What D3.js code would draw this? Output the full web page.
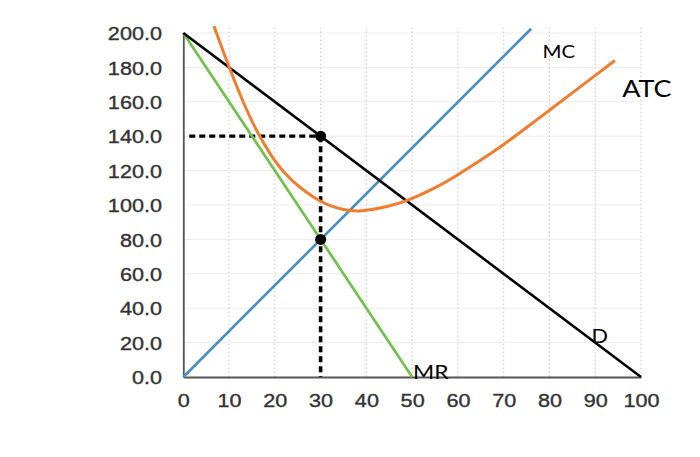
<!DOCTYPE html>
<html>
<head>
<meta charset="utf-8">
<script src="https://cdn.jsdelivr.net/npm/d3@7"></script>
<style>
  html, body { margin: 0; padding: 0; background: #fff; }
  svg { display: block; }
</style>
</head>
<body>
<script>
// ---- data ----
const xTicks = [0, 10, 20, 30, 40, 50, 60, 70, 80, 90, 100];
const yTicks = [0, 20, 40, 60, 80, 100, 120, 140, 160, 180, 200];

const demandQ = [0, 100];
const demandP = [200, 0];
const mrQ = [0, 50];
const mrP = [200, 0];
const mcQ = [0, 76];
const mcP = [0, 202.5];
const atcQ = [6.7, 10, 13.8, 16.4, 20, 23.3, 30, 35, 38.5, 45, 50, 56, 60, 65, 70, 75, 80, 85, 90, 94.3];
const atcP = [204, 180, 155, 141, 125, 114.5, 101, 97, 96, 99, 103.5, 111.2, 117.6, 126, 135, 145, 155.1, 165.2, 175.3, 184];

const pointQ = [30, 30];
const pointP = [140, 80];

const labelText = ["MC", "ATC", "D", "MR"];
const labelQ = [78.5, 95.9, 89.2, 50.2];
const labelP = [185.3, 163, 19.6, -1.2];

// ---- layout ----
const W = 700, H = 457;
const stretch = 1.17;
const svg = d3.select("body").append("svg").attr("width", W).attr("height", H);
svg.append("rect").attr("width", W).attr("height", H).attr("fill", "#fff");

const x = d3.scaleLinear().domain([0, 100]).range([183.3, 641]);
const y = d3.scaleLinear().domain([0, 200]).range([377, 33]);

// grid
const grid = svg.append("g");
grid.selectAll("line.h").data(yTicks.filter(d => d > 0)).join("line")
  .attr("x1", x(0)).attr("x2", x(100))
  .attr("y1", d => y(d)).attr("y2", d => y(d))
  .attr("stroke", "#ececec").attr("stroke-width", 1);
grid.selectAll("line.v").data(xTicks.filter(d => d > 0)).join("line")
  .attr("x1", d => x(d)).attr("x2", d => x(d))
  .attr("y1", y(0)).attr("y2", y(203))
  .attr("stroke", "#c8c8c8").attr("stroke-width", 1)
  .attr("stroke-dasharray", "1.5,2.5");

// axes
const xAxis = svg.append("g").attr("transform", `translate(0,${y(0)})`)
  .call(d3.axisBottom(x).tickValues(xTicks).tickFormat(d3.format("d")).tickSize(0).tickSizeOuter(0));
const yAxis = svg.append("g").attr("transform", `translate(${x(0)},0)`)
  .call(d3.axisLeft(y).tickValues(yTicks).tickFormat(d3.format(".1f")).tickSize(0).tickSizeOuter(0));

[xAxis, yAxis].forEach(a => {
  a.select(".domain").attr("stroke", "#555").attr("stroke-width", 1.8);
  a.selectAll("text")
    .attr("font-family", "'Liberation Sans', Arial, sans-serif")
    .attr("font-size", 18.5)
    .attr("fill", "#333")
    .attr("stroke", "#333")
    .attr("stroke-width", 0.35);
});
xAxis.selectAll("text").attr("y", 30).attr("dy", 0)
  .attr("transform", `scale(${stretch},1)`);
yAxis.selectAll("text").attr("x", -21.3 / stretch).attr("dy", "0.36em")
  .attr("transform", `scale(${stretch},1)`);

// dashed guides
svg.append("line")
  .attr("x1", x(1.3)).attr("x2", x(pointQ[0]))
  .attr("y1", y(pointP[0])).attr("y2", y(pointP[0]))
  .attr("stroke", "#000").attr("stroke-width", 3.2).attr("stroke-dasharray", "6,4");
svg.append("line")
  .attr("x1", x(pointQ[0])).attr("x2", x(pointQ[0]))
  .attr("y1", y(pointP[0])).attr("y2", y(0))
  .attr("stroke", "#000").attr("stroke-width", 3.6).attr("stroke-dasharray", "6,4");

// curves
const line = d3.line().x(d => x(d[0])).y(d => y(d[1]));
const zip = (a, b) => a.map((v, i) => [v, b[i]]);

svg.append("path").datum(zip(mrQ, mrP)).attr("d", line)
  .attr("fill", "none").attr("stroke", "#72c04e").attr("stroke-width", 2.7);
svg.append("path").datum(zip(mcQ, mcP)).attr("d", line)
  .attr("fill", "none").attr("stroke", "#4a8fc0").attr("stroke-width", 2.7);
svg.append("path").datum(zip(demandQ, demandP)).attr("d", line)
  .attr("fill", "none").attr("stroke", "#000").attr("stroke-width", 2.6);
svg.append("path").datum(zip(atcQ, atcP))
  .attr("d", d3.line().x(d => x(d[0])).y(d => y(d[1])).curve(d3.curveBasis))
  .attr("fill", "none").attr("stroke", "#ee7d30").attr("stroke-width", 3);

// points
svg.selectAll("circle.pt").data(zip(pointQ, pointP)).join("circle")
  .attr("cx", d => x(d[0])).attr("cy", d => y(d[1])).attr("r", 5.5).attr("fill", "#000");

// labels
const labelSize = [17.5, 23, 18.5, 19.5];
labelText.forEach((t, i) => {
  svg.append("text")
    .attr("transform", `translate(${x(labelQ[i])},${y(labelP[i])}) scale(${stretch},1)`)
    .attr("font-family", "Lato, 'Open Sans', sans-serif")
    .attr("font-size", labelSize[i])
    .attr("fill", "#000")
    .text(t);
});
</script>
</body>
</html>
